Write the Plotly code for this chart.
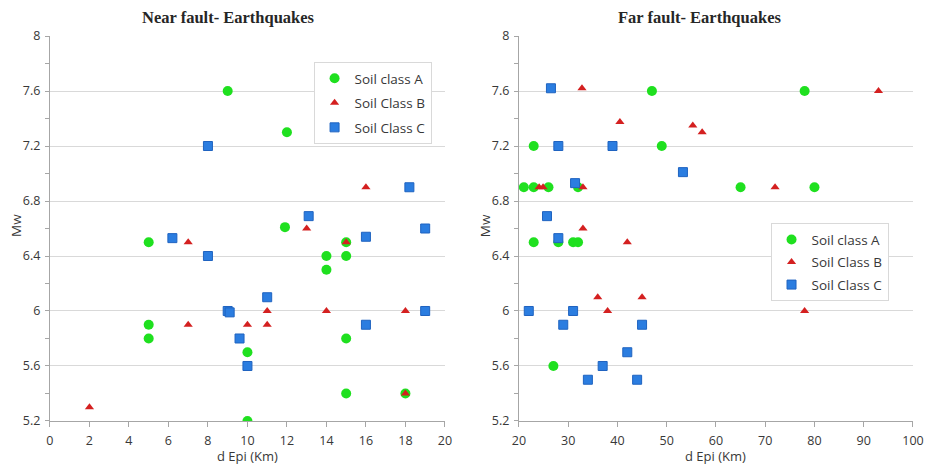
import plotly.graph_objects as go

# Near fault data
near_A_x = [9, 12, 11.9, 5, 15, 14, 15, 14, 5, 5, 10, 15, 15, 18, 10]
near_A_y = [7.6, 7.3, 6.61, 6.5, 6.5, 6.4, 6.4, 6.3, 5.9, 5.8, 5.7, 5.8, 5.4, 5.4, 5.2]
near_B_x = [7, 13, 16, 15, 7, 10, 11, 11, 14, 18, 2, 18]
near_B_y = [6.5, 6.6, 6.9, 6.5, 5.9, 5.9, 5.9, 6.0, 6.0, 6.0, 5.3, 5.4]
near_C_x = [8, 18.2, 13.1, 6.2, 16, 19, 8, 11, 9, 9.1, 9.6, 10, 16, 19]
near_C_y = [7.2, 6.9, 6.69, 6.53, 6.54, 6.6, 6.4, 6.1, 6.0, 5.99, 5.8, 5.6, 5.9, 6.0]

# Far fault data
far_A_x = [47, 78, 23, 49, 21, 23, 26, 32, 65, 80, 23, 28, 31, 32, 27]
far_A_y = [7.6, 7.6, 7.2, 7.2, 6.9, 6.9, 6.9, 6.9, 6.9, 6.9, 6.5, 6.5, 6.5, 6.5, 5.6]
far_B_x = [32.8, 93, 40.5, 55.3, 57.2, 24.1, 24.9, 33, 72, 33, 42, 36, 45, 38, 78]
far_B_y = [7.62, 7.6, 7.375, 7.35, 7.3, 6.9, 6.9, 6.9, 6.9, 6.6, 6.5, 6.1, 6.1, 6.0, 6.0]
far_C_x = [26.5, 28, 39, 53.3, 31.4, 25.7, 28, 22, 31, 29, 45, 42, 37, 34, 44]
far_C_y = [7.62, 7.2, 7.2, 7.01, 6.93, 6.69, 6.53, 6.0, 6.0, 5.9, 5.9, 5.7, 5.6, 5.5, 5.5]

names = ["Soil class A", "Soil Class B", "Soil Class C"]
y_ticks = [5.2, 5.6, 6, 6.4, 6.8, 7.2, 7.6, 8]
y_tick_text = ["5.2", "5.6", "6", "6.4", "6.8", "7.2", "7.6", "8"]

styles = [
    dict(symbol="circle", size=10, color="#1fe01f", line=dict(width=0)),
    dict(symbol="triangle-up", size=8, color="#d42020", line=dict(width=0)),
    dict(symbol="square", size=9, color="#2b7de0", line=dict(width=1, color="#1f63c0")),
]

fig = go.Figure()
near = [(near_A_x, near_A_y), (near_B_x, near_B_y), (near_C_x, near_C_y)]
far = [(far_A_x, far_A_y), (far_B_x, far_B_y), (far_C_x, far_C_y)]
for i, (xs, ys) in enumerate(near):
    fig.add_trace(go.Scatter(x=xs, y=ys, mode="markers", name=names[i], marker=styles[i],
                             xaxis="x", yaxis="y", legend="legend", legendgroup="n%d" % i))
for i, (xs, ys) in enumerate(far):
    fig.add_trace(go.Scatter(x=xs, y=ys, mode="markers", name=names[i], marker=styles[i],
                             xaxis="x2", yaxis="y2", legend="legend2", legendgroup="f%d" % i))

fam = "Open Sans, Liberation Sans, sans-serif"
tickfont = dict(family=fam, size=12.5, color="#383838")
titlefont = dict(family=fam, size=13.5, color="#383838")
xtitlefont = dict(family=fam, size=13, color="#383838")

yax = dict(range=[5.2, 8], tickvals=y_ticks, ticktext=y_tick_text, showgrid=True,
           gridcolor="#d9d9d9", gridwidth=1, showline=True, linecolor="#a6a6a6", linewidth=1,
           ticks="outside", ticklen=4, tickcolor="#a6a6a6", tickfont=tickfont, automargin=False,
           ticklabelstandoff=2,
           minor=dict(dtick=0.2, tick0=5.2, ticks="outside", ticklen=4, tickcolor="#a6a6a6", showgrid=False),
           zeroline=False)

xcommon = dict(showgrid=False, showline=True, linecolor="#a6a6a6", ticks="outside", ticklen=5,
               tickcolor="#a6a6a6", tickfont=tickfont, zeroline=False, automargin=False,
               ticklabelstandoff=3)

title_font = dict(family="Liberation Serif, Times New Roman, serif", size=16.5, color="#262626")

fig.update_layout(
    width=925, height=466,
    margin=dict(l=0, r=0, t=0, b=0),
    plot_bgcolor="white", paper_bgcolor="white",
    xaxis=dict(domain=[0.054, 0.481], range=[0, 20], dtick=2, tick0=0, anchor="y", **xcommon),
    xaxis2=dict(domain=[0.561, 0.987], range=[20, 100], dtick=10, tick0=20, anchor="y2", **xcommon),
    yaxis=dict(domain=[0.0966, 0.9227], anchor="x", **yax),
    yaxis2=dict(domain=[0.0966, 0.9227], anchor="x2", **yax),
    legend=dict(x=0.339, y=0.867, xanchor="left", yanchor="top", bgcolor="white",
                bordercolor="#d9d9d9", borderwidth=1, tracegroupgap=4,
                font=dict(family=fam, size=13.5, color="#383838")),
    legend2=dict(x=0.833, y=0.521, xanchor="left", yanchor="top", bgcolor="white",
                 bordercolor="#d9d9d9", borderwidth=1, tracegroupgap=2,
                 font=dict(family=fam, size=13.5, color="#383838")),
    annotations=[
        dict(text="<b>Near fault- Earthquakes</b>", x=0.247, y=0.962, xref="paper", yref="paper",
             xanchor="center", yanchor="middle", showarrow=False, font=title_font),
        dict(text="<b>Far fault- Earthquakes</b>", x=0.756, y=0.962, xref="paper", yref="paper",
             xanchor="center", yanchor="middle", showarrow=False, font=title_font),
        dict(text="Mw", x=0.0173, y=0.515, xref="paper", yref="paper", textangle=-90,
             xanchor="center", yanchor="middle", showarrow=False, font=titlefont),
        dict(text="Mw", x=0.5245, y=0.515, xref="paper", yref="paper", textangle=-90,
             xanchor="center", yanchor="middle", showarrow=False, font=titlefont),
        dict(text="d Epi (Km)", x=0.2675, y=0.022, xref="paper", yref="paper",
             xanchor="center", yanchor="middle", showarrow=False, font=xtitlefont),
        dict(text="d Epi (Km)", x=0.774, y=0.022, xref="paper", yref="paper",
             xanchor="center", yanchor="middle", showarrow=False, font=xtitlefont),
    ],
)

fig.write_html("out.html", config={"displayModeBar": False},
               post_script="document.body.style.margin='0px';document.body.style.padding='0px';")
